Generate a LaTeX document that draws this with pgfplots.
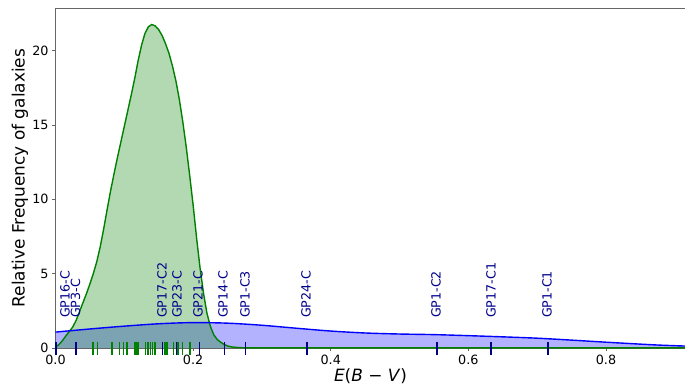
\documentclass[border=0pt]{standalone}
\usepackage{fontspec}
\setmainfont{DejaVu Sans}
\usepackage{pgfplots}
\pgfplotsset{compat=1.18}

\definecolor{kdeblue}{HTML}{0000FF}
\definecolor{kdegreen}{HTML}{008000}
\definecolor{rugblue}{HTML}{00008B}
\definecolor{spine}{gray}{0.4}

\begin{document}
\begin{tikzpicture}
\begin{axis}[
  scale only axis, width=630bp, height=339.5bp,
  xmin=0, xmax=0.9157, ymin=0, ymax=22.84,
  axis line style={spine, line width=0.7bp},
  tick align=outside, major tick length=3.5bp,
  tick style={spine, line width=0.7bp},
  xtick pos=bottom, ytick pos=left,
  xtick={0,0.2,0.4,0.6,0.8}, xticklabels={0.0,0.2,0.4,0.6,0.8},
  ytick={0,5,10,15,20}, yticklabels={0,5,10,15,20},
  ticklabel style={font=\fontsize{12.8}{14}\selectfont},
  xlabel={\textit{E}(\textit{B} − \textit{V})},
  ylabel={Relative Frequency of galaxies},
  xlabel style={at={(axis description cs:0.5,-0.0845)}, anchor=center, font=\fontsize{17}{20}\selectfont},
  ylabel style={at={(axis description cs:-0.0564,0.5)}, anchor=center, font=\fontsize{17}{20}\selectfont},
  clip=false,
]
% density of the second sample
\addplot[draw=none, fill=kdeblue, fill opacity=0.3] coordinates {
(0.00,1.06)(0.05,1.27)(0.10,1.46)(0.15,1.62)(0.20,1.70)(0.25,1.66)(0.30,1.52)
(0.35,1.32)(0.40,1.13)(0.45,1.00)(0.50,0.93)(0.55,0.89)(0.60,0.82)(0.65,0.74)
(0.70,0.65)(0.75,0.52)(0.80,0.38)(0.85,0.25)(0.88,0.18)(0.92,0.11)} \closedcycle;
% density of the first sample
\addplot[draw=none, fill=kdegreen, fill opacity=0.3] coordinates {
(0.000,0.05)(0.005,0.22)(0.010,0.48)(0.015,0.80)(0.020,1.10)(0.025,1.40)
(0.030,1.85)(0.035,2.45)(0.040,3.05)(0.045,3.65)(0.050,4.30)(0.055,5.00)
(0.060,5.80)(0.065,6.80)(0.070,8.00)(0.075,9.30)(0.080,10.55)(0.085,11.70)
(0.090,12.80)(0.095,13.85)(0.100,14.90)(0.105,15.95)(0.110,17.00)(0.115,18.10)
(0.120,19.30)(0.125,20.35)(0.130,21.15)(0.135,21.60)(0.140,21.75)(0.145,21.65)
(0.150,21.40)(0.155,21.00)(0.160,20.45)(0.165,19.80)(0.170,18.95)(0.175,17.95)
(0.180,16.70)(0.185,15.20)(0.190,13.50)(0.195,11.60)(0.200,9.60)(0.205,7.40)
(0.210,5.40)(0.215,3.70)(0.220,2.35)(0.225,1.45)(0.230,0.88)(0.235,0.56)
(0.240,0.38)(0.245,0.23)(0.250,0.13)(0.255,0.07)(0.260,0.04)(0.270,0.01)
(0.280,0.00)(0.9157,0.00)} \closedcycle;
\addplot[kdegreen, line width=1.4bp] coordinates {
(0.000,0.05)(0.005,0.22)(0.010,0.48)(0.015,0.80)(0.020,1.10)(0.025,1.40)
(0.030,1.85)(0.035,2.45)(0.040,3.05)(0.045,3.65)(0.050,4.30)(0.055,5.00)
(0.060,5.80)(0.065,6.80)(0.070,8.00)(0.075,9.30)(0.080,10.55)(0.085,11.70)
(0.090,12.80)(0.095,13.85)(0.100,14.90)(0.105,15.95)(0.110,17.00)(0.115,18.10)
(0.120,19.30)(0.125,20.35)(0.130,21.15)(0.135,21.60)(0.140,21.75)(0.145,21.65)
(0.150,21.40)(0.155,21.00)(0.160,20.45)(0.165,19.80)(0.170,18.95)(0.175,17.95)
(0.180,16.70)(0.185,15.20)(0.190,13.50)(0.195,11.60)(0.200,9.60)(0.205,7.40)
(0.210,5.40)(0.215,3.70)(0.220,2.35)(0.225,1.45)(0.230,0.88)(0.235,0.56)
(0.240,0.38)(0.245,0.23)(0.250,0.13)(0.255,0.07)(0.260,0.04)(0.270,0.01)
(0.280,0.00)(0.9157,0.00)};
\addplot[kdeblue, line width=1.4bp, smooth] coordinates {
(0.00,1.06)(0.05,1.27)(0.10,1.46)(0.15,1.62)(0.20,1.70)(0.25,1.66)(0.30,1.52)
(0.35,1.32)(0.40,1.13)(0.45,1.00)(0.50,0.93)(0.55,0.89)(0.60,0.82)(0.65,0.74)
(0.70,0.65)(0.75,0.52)(0.80,0.38)(0.85,0.25)(0.88,0.18)(0.9157,0.12)};
% rug of the individual values: short vertical strokes across the base line
\addplot[kdegreen, line width=1.4bp, quiver={u=0, v=-0.9}, -] coordinates {
(0.0545,0.4)(0.0610,0.4)(0.0821,0.4)(0.0930,0.4)(0.0988,0.4)(0.1039,0.4)
(0.1156,0.4)(0.1170,0.4)(0.1185,0.4)(0.1199,0.4)(0.1308,0.4)(0.1344,0.4)
(0.1381,0.4)(0.1410,0.4)(0.1446,0.4)(0.1592,0.4)(0.1621,0.4)(0.1712,0.4)
(0.1781,0.4)(0.1849,0.4)(0.1955,0.4)};
\addplot[rugblue, line width=1.4bp, quiver={u=0, v=-0.9}, -] coordinates {
(0.0005,0.4)(0.0298,0.4)(0.1555,0.4)(0.1760,0.4)(0.2090,0.4)(0.2456,0.4)
(0.2762,0.4)(0.3655,0.4)(0.5545,0.4)(0.6330,0.4)(0.7158,0.4)};
% object names
\begin{scope}[every node/.style={rotate=90, anchor=west, inner sep=0pt, text=rugblue, font=\fontsize{12.7}{14}\selectfont}]
\node at (axis cs:0.0138,2.0) {GP16-C};
\node at (axis cs:0.0290,2.0) {GP3-C};
\node at (axis cs:0.1548,2.0) {GP17-C2};
\node at (axis cs:0.1766,2.0) {GP23-C};
\node at (axis cs:0.2071,2.0) {GP21-C};
\node at (axis cs:0.2435,2.0) {GP14-C};
\node at (axis cs:0.2754,2.0) {GP1-C3};
\node at (axis cs:0.3640,2.0) {GP24-C};
\node at (axis cs:0.5530,2.0) {GP1-C2};
\node at (axis cs:0.6330,2.0) {GP17-C1};
\node at (axis cs:0.7144,2.0) {GP1-C1};
\end{scope}
\coordinate (ll) at (rel axis cs:0,0);
\coordinate (ur) at (rel axis cs:1,1);
\end{axis}
\pgfresetboundingbox
\path[use as bounding box] ([xshift=-55.5bp,yshift=-37.2bp]ll) rectangle ([xshift=-0.6bp,yshift=8.3bp]ur);
\end{tikzpicture}
\end{document}
